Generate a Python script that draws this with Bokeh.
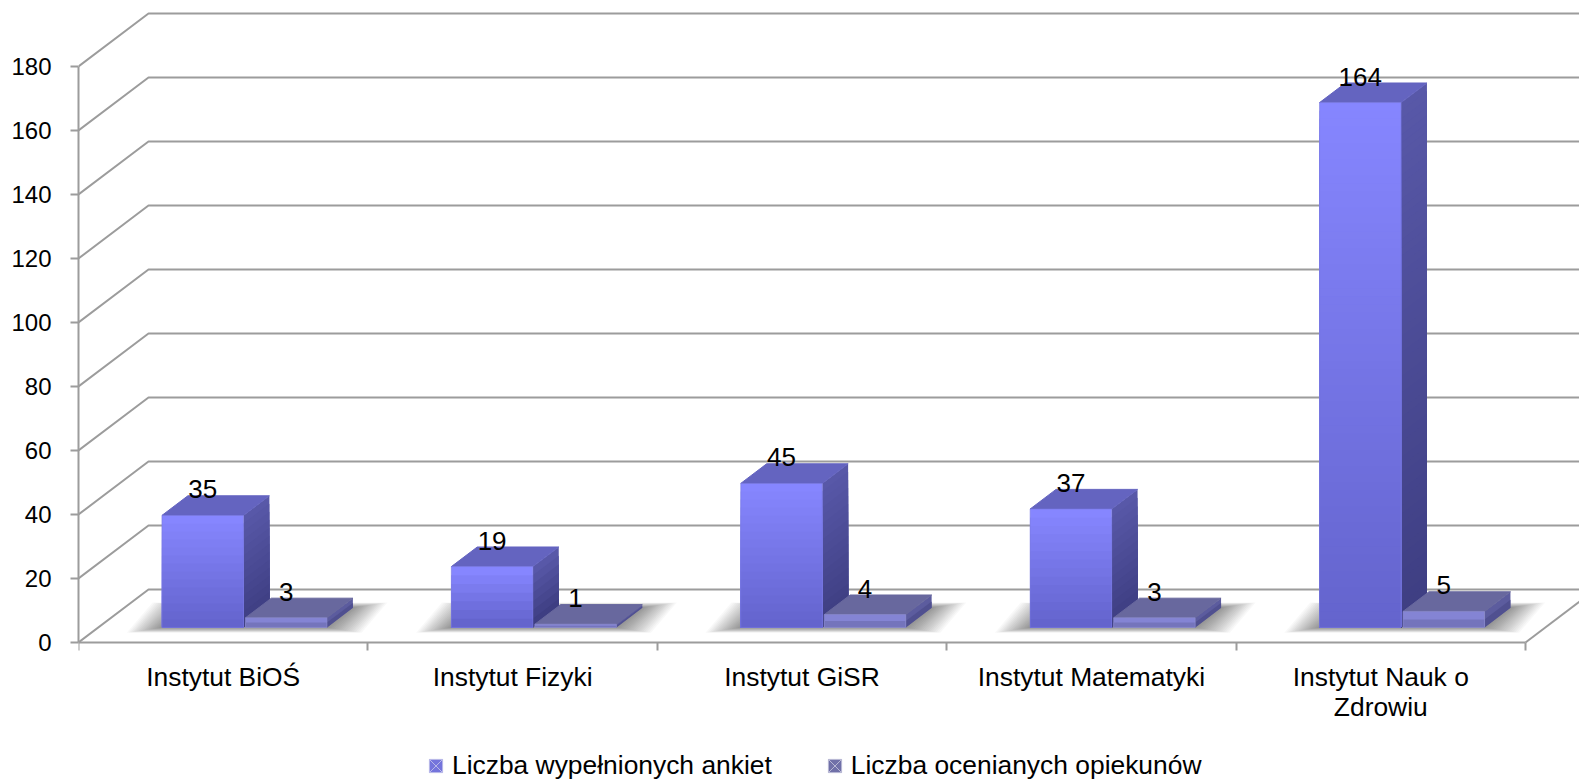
from bokeh.plotting import figure
from bokeh.models import (ColumnDataSource, FixedTicker, LinearAxis, Range1d, Legend, LegendItem)
from bokeh.core.properties import value
from bokeh.embed import file_html
from bokeh.resources import INLINE

categories = ["Instytut BiOŚ", "Instytut Fizyki", "Instytut GiSR", "Instytut Matematyki", "Instytut Nauk o\nZdrowiu"]
ankiety = [35, 19, 45, 37, 164]
opiekunowie = [3, 1, 4, 3, 5]
y_ticks = [0, 20, 40, 60, 80, 100, 120, 140, 160, 180]
series_names = ["Liczba wypełnionych ankiet", "Liczba ocenianych opiekunów"]

FONT = "Liberation Sans"
FS = "26.4px"
FS_Y = "24px"
PX_CAT = 289.4      # px per category
PX_VAL = 3.2        # px per value unit
WALL_DX = 70 / PX_CAT
WALL_DY = 53 / PX_VAL
BAR_W = 81.5 / PX_CAT
BAR_D0, BAR_D1 = 0.285, 0.655
GRID = "#9c9c9c"


def pr(x, v, d):
    """project (category x, value v, depth d) on to the picture plane"""
    return x + d * WALL_DX, v + d * WALL_DY


def lerp(c0, c1, t):
    return "#%02x%02x%02x" % tuple(round(a + (b - a) * t) for a, b in zip(c0, c1))


W = 1579
H = 781
LEFT, TOP, BASE = 78, 8, 642
p = figure(width=W, height=H, output_backend="svg", toolbar_location=None,
           x_range=Range1d(0, (W - LEFT) / PX_CAT),
           y_range=Range1d((BASE - H) / PX_VAL, (BASE - TOP) / PX_VAL),
           min_border_left=LEFT, min_border_right=0, min_border_top=TOP, min_border_bottom=0,
           x_axis_type=None, y_axis_type=None, outline_line_color=None, background_fill_color="white")
p.grid.visible = False

# walls
n_cat = len(categories)
for t in y_ticks:
    bx, by = pr(0, t, 1)
    ex, ey = pr(n_cat, t, 1)
    p.line([0, bx, ex], [t, by, ey], line_color=GRID, line_width=2)
ex, ey = pr(n_cat, 0, 1)
p.line([n_cat, ex], [0, ey], line_color=GRID, line_width=2)

# floor shadows
for i, (a, b) in enumerate(zip(ankiety, opiekunowie)):
    x0 = i + 0.5 - BAR_W + 1 / PX_CAT
    x1 = i + 0.5 + BAR_W + 1 / PX_CAT
    for k in range(18, 0, -1):
        gx = k * 2.0 / PX_CAT
        gy = k * 0.3 / PX_VAL
        xs, ys = [], []
        for (xx, d, s) in [(x0 - gx, BAR_D0, -1), (x1 + gx, BAR_D0, -1), (x1 + gx, BAR_D1, 1), (x0 - gx, BAR_D1, 1)]:
            px_, py_ = pr(xx, s * gy, d)
            xs.append(px_)
            ys.append(py_)
        p.patch(xs, ys, fill_color="black", fill_alpha=0.026, line_color=None)


def draw_bar(x0, v, front, side, top, edge):
    x1 = x0 + BAR_W
    n = max(2, int(v * PX_VAL / 8))
    # side face
    for j in range(n):
        hi = v * (n - j) / n
        t = j / max(n - 1, 1)
        ax, ay = pr(x1, 0, BAR_D0)
        bx, by = pr(x1, 0, BAR_D1)
        cx, cy = pr(x1, hi, BAR_D1)
        dx, dy = pr(x1, hi, BAR_D0)
        p.patch([ax, bx, cx, dx], [ay, by, cy, dy], fill_color=lerp(side[0], side[1], t), line_color=None)
    # top face
    tx, ty = zip(*[pr(x0, v, BAR_D0), pr(x1, v, BAR_D0), pr(x1, v, BAR_D1), pr(x0, v, BAR_D1)])
    p.patch(list(tx), list(ty), fill_color=top, line_color=top, line_width=1, line_join="round")
    # front face
    fx0, fy0 = pr(x0, 0, BAR_D0)
    fx1, _ = pr(x1, 0, BAR_D0)
    for j in range(n):
        hi = v * (n - j) / n
        t = j / max(n - 1, 1)
        p.quad(left=fx0, right=fx1, bottom=fy0, top=fy0 + hi, fill_color=lerp(front[0], front[1], t), line_color=None)
    p.quad(left=fx0, right=fx1, bottom=fy0, top=fy0 + v, fill_color=None, line_color=edge, line_width=1, line_alpha=0.6)


S1 = dict(front=((134, 134, 255), (100, 100, 205)), side=((88, 88, 168), (62, 62, 130)), top="#6464c0", edge="#7a7ae0")
S2 = dict(front=((132, 132, 212), (116, 116, 188)), side=((92, 92, 158), (80, 80, 144)), top="#68689e", edge="#8e8ed0")

for i, (a, b) in enumerate(zip(ankiety, opiekunowie)):
    x0 = i + 0.5 - BAR_W + 0.3 / PX_CAT
    draw_bar(x0, a, **S1)
    draw_bar(x0 + BAR_W + 2 / PX_CAT, b, **S2)

# value labels
lx, ly, lt = [], [], []
for i, (a, b) in enumerate(zip(ankiety, opiekunowie)):
    x0 = i + 0.5 - BAR_W + 0.3 / PX_CAT
    for xc, v in ((x0 + BAR_W / 2, a), (x0 + BAR_W * 1.5 + 2 / PX_CAT, b)):
        px_, py_ = pr(xc, v, BAR_D0)
        lx.append(px_)
        ly.append(py_)
        lt.append(str(v))
p.text(x="x", y="y", text="t", source=ColumnDataSource(dict(x=lx, y=ly, t=lt)),
       text_font=value(FONT), text_font_size="26px", text_color="black",
       text_align="center", text_baseline="middle", y_offset=-26)

# axes
yax = LinearAxis(ticker=FixedTicker(ticks=y_ticks), bounds=(0, 180))
yax.axis_line_color = GRID
yax.axis_line_width = 2
yax.major_tick_line_color = GRID
yax.major_tick_line_width = 2
yax.major_tick_out = 8
yax.major_tick_in = 0
yax.minor_tick_out = 0
yax.minor_tick_in = 0
yax.major_label_standoff = 19
yax.major_label_text_font = FONT
yax.major_label_text_font_size = FS_Y
yax.major_label_text_color = "black"
p.add_layout(yax, "left")

centers = [i + 0.5 for i in range(n_cat)]
xax = LinearAxis(ticker=FixedTicker(ticks=centers, minor_ticks=list(range(n_cat + 1))), bounds=(0, n_cat),
                 fixed_location=0)
xax.major_label_overrides = {c: l for c, l in zip(centers, categories)}
xax.axis_line_color = GRID
xax.axis_line_width = 2
xax.major_tick_out = 0
xax.major_tick_in = 0
xax.minor_tick_out = 8
xax.minor_tick_in = 0
xax.minor_tick_line_color = GRID
xax.minor_tick_line_width = 2
xax.major_label_standoff = 11
xax.major_label_text_font = FONT
xax.major_label_text_font_size = FS
xax.major_label_text_color = "black"
xax.major_label_text_line_height = 1.0
xax.major_label_orientation = "horizontal"
p.add_layout(xax, "below")

# legend
float_nan = float("nan")
m1 = p.scatter([float_nan], [float_nan], marker="square_x", fill_color="#7474dc", line_color="#b8b8e8", line_width=1)
m2 = p.scatter([float_nan], [float_nan], marker="square_x", fill_color="#7070a8", line_color="#b8b8d4", line_width=1)
legend = Legend(items=[LegendItem(label=series_names[0], renderers=[m1]),
                       LegendItem(label=series_names[1], renderers=[m2])],
                orientation="horizontal", location=(341, -1),
                glyph_width=33, glyph_height=33, label_standoff=-4, spacing=46,
                padding=0, margin=0, border_line_color=None, background_fill_alpha=0,
                label_text_font=FONT, label_text_font_size=FS, label_text_color="black")
p.add_layout(legend)

open("out.html", "w").write(file_html(p, INLINE))
